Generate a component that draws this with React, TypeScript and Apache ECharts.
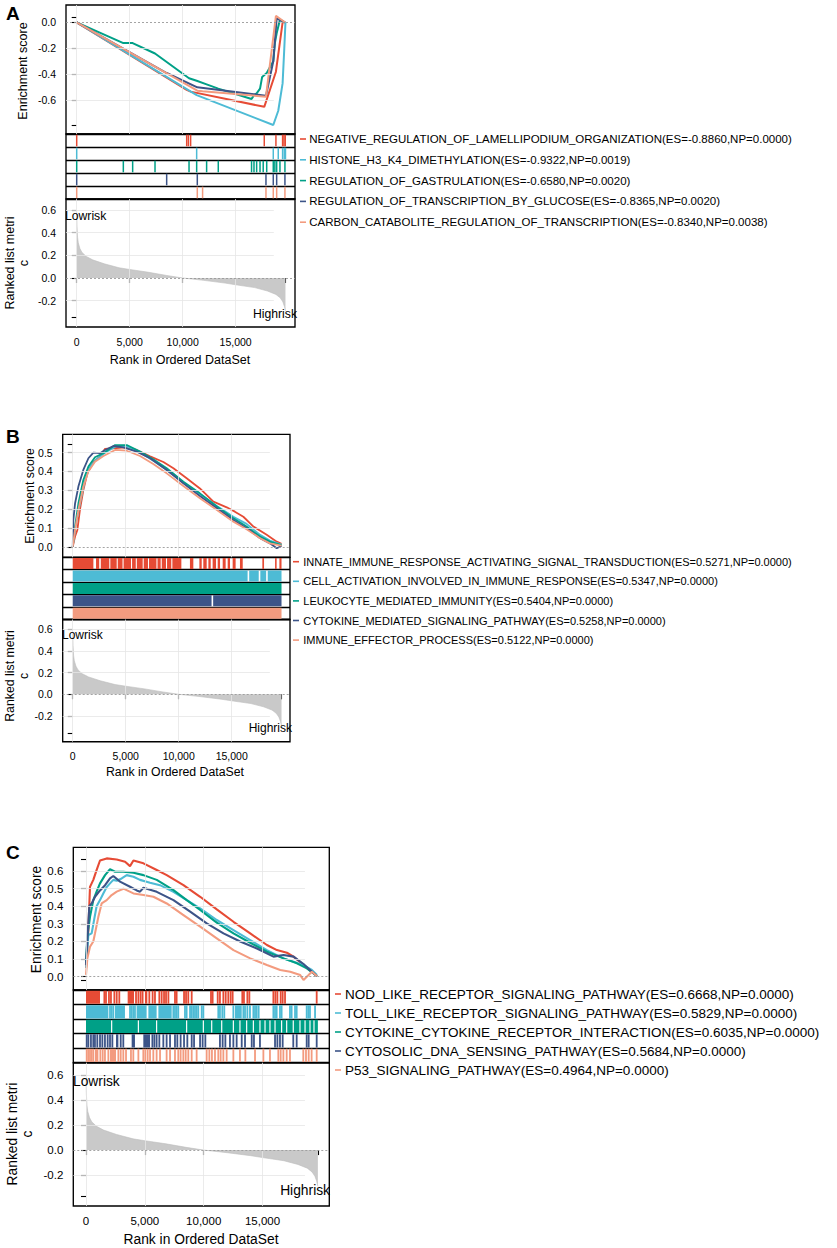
import React, { useEffect, useRef } from 'react';
import * as echarts from 'echarts';

const W = 837;
const H = 1248;
const FONT = '"Liberation Sans", Arial, Helvetica, sans-serif';
const COLORS = ['#E64B35', '#4DBBD5', '#00A087', '#3C5488', '#F39B7F'];

// ---------- shared ----------
const xTickLabels = [0, 5000, 10000, 15000];
const lastRank = 19700;
const rankMetric: number[][] = [
  [0, 0.56], [30, 0.45], [80, 0.36], [150, 0.31], [300, 0.26], [500, 0.225], [900, 0.19],
  [1500, 0.16], [2600, 0.125], [4000, 0.09], [5000, 0.075], [6800, 0.05], [8500, 0.022],
  [10000, 0.0], [12000, -0.021], [14000, -0.045], [15000, -0.06], [16800, -0.085],
  [18000, -0.115], [18800, -0.145], [19200, -0.175], [19450, -0.21], [19600, -0.25], [19700, -0.29],
];

// ---------- panel A ----------
const setsA = [
  'NEGATIVE_REGULATION_OF_LAMELLIPODIUM_ORGANIZATION',
  'HISTONE_H3_K4_DIMETHYLATION',
  'REGULATION_OF_GASTRULATION',
  'REGULATION_OF_TRANSCRIPTION_BY_GLUCOSE',
  'CARBON_CATABOLITE_REGULATION_OF_TRANSCRIPTION',
];
const esA = ['-0.8860', '-0.9322', '-0.6580', '-0.8365', '-0.8340'];
const npA = ['0.0000', '0.0019', '0.0020', '0.0020', '0.0038'];
const curveA1 = [[0, 0], [10380, -0.52], [10750, -0.533], [17700, -0.65], [18800, -0.38], [19430, 0.0], [19680, 0]];
const curveA2 = [[0, 0], [11320, -0.56], [18550, -0.79], [19020, -0.68], [19430, -0.47], [19590, -0.2], [19700, 0]];
const curveA3 = [[0, 0], [4400, -0.16], [5280, -0.16], [7390, -0.24], [10600, -0.43], [11320, -0.45], [12260, -0.477], [13360, -0.51], [16500, -0.59], [16730, -0.56], [16980, -0.546], [17300, -0.51], [17500, -0.42], [17930, -0.39], [18550, -0.3], [18700, -0.16], [18870, -0.085], [19180, 0.02], [19650, 0]];
const curveA4 = [[0, 0], [8490, -0.39], [11380, -0.5], [17860, -0.565], [18550, -0.3], [18870, 0.03], [19650, 0]];
const curveA5 = [[0, 0], [11380, -0.526], [11880, -0.53], [17860, -0.572], [18800, 0.05], [19650, 0]];
const hitsA1 = [0, 10380, 10540, 10750, 17700, 18800, 19430, 19560, 19680];
const hitsA2 = [0, 11320, 18550, 19020, 19430, 19590, 19700];
const hitsA3 = [0, 4400, 5280, 7390, 10600, 11320, 12260, 13360, 16500, 16730, 16980, 17300, 17600, 17930, 18550, 18700, 18870, 19180, 19650];
const hitsA4 = [0, 8490, 11380, 17860, 18550, 18870, 19650];
const hitsA5 = [0, 11380, 11880, 17860, 18550, 18870, 19650];

// ---------- panel B ----------
const setsB = [
  'INNATE_IMMUNE_RESPONSE_ACTIVATING_SIGNAL_TRANSDUCTION',
  'CELL_ACTIVATION_INVOLVED_IN_IMMUNE_RESPONSE',
  'LEUKOCYTE_MEDIATED_IMMUNITY',
  'CYTOKINE_MEDIATED_SIGNALING_PATHWAY',
  'IMMUNE_EFFECTOR_PROCESS',
];
const esB = ['0.5271', '0.5347', '0.5404', '0.5258', '0.5122'];
const npB = ['0.0000', '0.0000', '0.0000', '0.0000', '0.0000'];
const curveB1 = [[0, 0], [220, 0.055], [440, 0.09], [690, 0.2], [1000, 0.3], [1380, 0.39], [1950, 0.45], [2580, 0.48], [3050, 0.52], [3840, 0.523], [4940, 0.528], [6040, 0.514], [7300, 0.48], [8550, 0.45], [9500, 0.417], [10750, 0.364], [12000, 0.31], [13270, 0.24], [14530, 0.21], [15300, 0.187], [16100, 0.16], [17050, 0.108], [18300, 0.064], [19250, 0.028], [19700, 0.016]];
const curveB2 = [[0, 0], [310, 0.125], [690, 0.23], [1160, 0.355], [1640, 0.426], [2260, 0.465], [3200, 0.505], [4150, 0.535], [5100, 0.532], [6350, 0.5], [7600, 0.457], [8870, 0.408], [10440, 0.34], [12000, 0.28], [13600, 0.217], [15160, 0.16], [16400, 0.122], [17680, 0.064], [18600, 0.034], [19700, 0.012]];
const curveB3 = [[0, 0], [220, 0.108], [535, 0.23], [1000, 0.355], [1480, 0.426], [2100, 0.475], [2900, 0.497], [4000, 0.54], [5100, 0.54], [6350, 0.505], [7600, 0.465], [8870, 0.417], [10440, 0.346], [12000, 0.284], [13600, 0.214], [15160, 0.152], [16400, 0.108], [17680, 0.055], [18600, 0.028], [19700, 0.01]];
const curveB4 = [[0, 0], [60, 0.143], [220, 0.23], [535, 0.32], [1000, 0.408], [1480, 0.47], [1950, 0.5], [2580, 0.497], [3050, 0.514], [3840, 0.535], [4780, 0.528], [6040, 0.505], [7300, 0.47], [8870, 0.408], [10440, 0.337], [12000, 0.27], [13600, 0.205], [15160, 0.143], [16400, 0.099], [17680, 0.046], [18600, 0.019], [19250, -0.007], [19700, 0.005]];
const curveB5 = [[0, 0], [220, 0.09], [535, 0.196], [1000, 0.32], [1480, 0.4], [2100, 0.452], [2900, 0.482], [4000, 0.514], [5100, 0.51], [6350, 0.482], [7600, 0.44], [8870, 0.39], [10440, 0.323], [12000, 0.258], [13600, 0.196], [15160, 0.134], [16400, 0.094], [17680, 0.046], [18600, 0.019], [19700, 0.007]];
const hitsB1 = [[0, 1950], [2200, 2500], [2650, 3450], [3550, 4150], [4250, 4700], [4800, 5500], [5600, 5950], [6050, 6600], [6700, 7100], [7200, 7900], [8000, 8300], [8400, 8800], [8900, 9300], [9400, 10250], [11060, 11380], [11950, 12170], [12320, 12640], [12800, 13020], [13200, 13520], [13680, 13900], [14150, 14430], [14620, 14840], [15090, 15370], [15780, 16040], [17890, 18050], [19090, 19240], [19500, 19700]];
const hitsB2 = [[0, 16500], [16650, 17550], [17700, 18250], [18400, 19700]];
const hitsB3 = [[0, 19700]];
const hitsB4 = [[0, 13100], [13250, 19700]];
const hitsB5 = [[0, 19700]];

// ---------- panel C ----------
const setsC = [
  'NOD_LIKE_RECEPTOR_SIGNALING_PATHWAY',
  'TOLL_LIKE_RECEPTOR_SIGNALING_PATHWAY',
  'CYTOKINE_CYTOKINE_RECEPTOR_INTERACTION',
  'CYTOSOLIC_DNA_SENSING_PATHWAY',
  'P53_SIGNALING_PATHWAY',
];
const esC = ['0.6668', '0.5829', '0.6035', '0.5684', '0.4964'];
const npC = ['0.0000', '0.0000', '0.0000', '0.0000', '0.0000'];
const curveC1 = [[0, 0.05], [113, 0.17], [200, 0.265], [340, 0.51], [620, 0.55], [900, 0.605], [1190, 0.66], [1760, 0.672], [2610, 0.666], [3320, 0.653], [3740, 0.628], [4030, 0.66], [4880, 0.644], [6010, 0.606], [6860, 0.577], [8280, 0.52], [9700, 0.454], [11110, 0.382], [12530, 0.312], [13950, 0.246], [15370, 0.18], [16220, 0.151], [17070, 0.136], [17630, 0.114], [18480, 0.066], [19050, 0.034], [19620, 0.004]];
const curveC2 = [[0, 0.05], [60, 0.095], [200, 0.237], [480, 0.246], [680, 0.32], [900, 0.4], [1190, 0.435], [1470, 0.473], [1760, 0.51], [2040, 0.53], [2320, 0.55], [2610, 0.545], [3030, 0.558], [3460, 0.577], [4030, 0.568], [4590, 0.55], [5440, 0.534], [6290, 0.52], [7430, 0.482], [8560, 0.435], [9700, 0.388], [11110, 0.322], [12530, 0.265], [13950, 0.208], [15370, 0.151], [16780, 0.104], [17630, 0.085], [18480, 0.066], [19190, 0.038], [19620, 0.01]];
const curveC3 = [[0, 0.076], [113, 0.227], [340, 0.34], [620, 0.435], [900, 0.483], [1190, 0.53], [1620, 0.577], [2040, 0.61], [2470, 0.596], [3180, 0.596], [4030, 0.59], [4880, 0.577], [6010, 0.55], [7430, 0.492], [8560, 0.435], [9700, 0.379], [11110, 0.307], [12530, 0.246], [13950, 0.193], [15370, 0.142], [16780, 0.104], [17920, 0.076], [18770, 0.047], [19620, 0.004]];
const curveC4 = [[0, 0.066], [113, 0.208], [283, 0.4], [480, 0.416], [765, 0.454], [1190, 0.49], [1620, 0.52], [2040, 0.558], [2320, 0.572], [2890, 0.54], [3740, 0.511], [4310, 0.49], [4590, 0.483], [4880, 0.505], [6010, 0.482], [7430, 0.435], [8850, 0.369], [10260, 0.303], [11680, 0.246], [13100, 0.2], [14520, 0.16], [15930, 0.114], [16780, 0.123], [17630, 0.114], [18480, 0.072], [19190, 0.028], [19620, 0.004]];
const curveC5 = [[0, 0.01], [113, 0.104], [340, 0.17], [620, 0.2], [765, 0.246], [1050, 0.34], [1330, 0.416], [1760, 0.435], [2180, 0.464], [2610, 0.483], [3180, 0.5], [4030, 0.473], [4880, 0.464], [5730, 0.454], [6860, 0.416], [8280, 0.35], [9700, 0.284], [11110, 0.218], [12530, 0.151], [13950, 0.104], [15370, 0.066], [16500, 0.038], [17350, 0.028], [18200, 0.009], [18480, -0.019], [18910, 0.009], [19190, 0.028], [19620, 0.004]];
const hitsC1 = [[0, 1190], 1560, 1700, 1950, 2120, 2410, 2610, 2830, [3540, 4080], 4250, 4450, 4640, 4810, [5010, 5210], 5380, 5660, 5860, 6230, 6430, 6630, 6800, 7000, 7560, 7700, 8330, 8500, 8690, 8980, 10620, 10760, 11190, 11380, 11670, 11870, 12090, 12290, 12460, 13280, 13420, 13710, 13880, 15920, 16090, 16260, 16540, 16710, 16910, 19600];
const hitsC2 = [[0, 1900], 2040, 2180, 2320, [2460, 3310], 3740, 3880, 4020, 4160, [4300, 5150], [5300, 6000], [6150, 7280], 7420, 7560, 7700, 7840, 8410, 8550, 8840, 8980, 9120, 9260, 9400, 9540, 9830, 9970, 11240, 11380, 11580, 11750, 12520, [12660, 13230], 13370, 13510, 13710, 13930, 14220, 14360, 14500, 14670, 15920, 16060, 16200, 16480, 16620, 17330, 17470, 17760, 17900, 18750, 18890, 19030, 19460];
const hitsC3 = [[0, 2130], [2230, 4400], [4500, 5950], [6050, 8500], [8600, 9920], [10020, 10630], [10730, 11480], [11580, 12470], [12570, 13030], [13130, 13600], [13700, 14170], [14270, 14730], [14830, 15160], [15260, 15580], [15680, 16010], [16110, 16570], [16670, 17000], [17100, 17560], [17660, 18130], [18230, 18560], [18660, 18980], [19080, 19320], [19420, 19700]];
const hitsC4 = [60, 200, 420, 620, 760, 960, 1190, 1390, 1610, 1840, 2040, 2240, [2550, 2750], 2950, 3170, [3880, 4160], [4870, 5440], 5640, 5810, 6000, 6230, 6570, 6850, 7140, 7560, 7760, 8040, 8330, 8610, 8980, 9180, 9690, 9910, 10140, 11380, 11610, 11840, 12230, 12520, 12800, 13230, 13510, 14080, 14270, 14780, 16060, 16260, 16480, 16710, 17610, 17900, 18750, 18920, 19600];
const hitsC5 = [60, 200, 340, 480, 620, [760, 1050], 1220, 1420, 1610, 1900, [2040, 2550], 2750, 2950, 3170, 3400, 3820, 4020, 4450, 4870, 5040, 5240, 5440, 5720, 6000, 6290, 6850, 7140, 7560, 7840, 8040, 8270, 8470, 8690, 8980, 9400, 10250, 10480, 10700, 10960, 11240, 11440, 11670, 11950, 12520, 13080, 13540, 14360, 15070, 15630, 16340, 16540, 16770, 17050, 17330, 18460, 18690, 18920, 19170, 19600];

// ---------- layout ----------
const panels = [
  {
    letter: 'A', left: 66, width: 229, esTop: 5, esH: 129, hitH: 65, rankH: 128, xMin: -1010, xMax: 20600,
    esMin: -0.859, esMax: 0.133, esTicks: [0.04, 0, -0.2, -0.4, -0.6, -0.79], esLabels: [0, -0.2, -0.4, -0.6], esGrid: [-0.2, -0.4, -0.6],
    rankMin: -0.432, rankMax: 0.696, rankTicks: [0.6, 0.4, 0.2, 0, -0.2, -0.35],
    tickFont: 10.5, titleFont: 12.5, legendFont: 11.5, riskFont: 12.2, hitW: 1.5, lineW: 2,
    letterY: 13.5, esTitle: [23, 71], rankTitle: [17, 263], rankLH: 14, xTitle: [180, 360],
    low: [65, 216], high: [297, 314],
    legendDash: 300, legendText: 309.3, legendY: 139, legendGap: 20.8,
    names: setsA, es: esA, np: npA,
    curves: [curveA1, curveA2, curveA3, curveA4, curveA5],
    hits: [hitsA1, hitsA2, hitsA3, hitsA4, hitsA5],
  },
  {
    letter: 'B', left: 62.7, width: 227.3, esTop: 434.3, esH: 123, hitH: 62.2, rankH: 122.2, xMin: -945, xMax: 20500,
    esMin: -0.055, esMax: 0.597, esTicks: [0.546, 0.5, 0.4, 0.3, 0.2, 0.1, 0], esLabels: [0.5, 0.4, 0.3, 0.2, 0.1, 0], esGrid: [0.5, 0.4, 0.3, 0.2, 0.1],
    rankMin: -0.437, rankMax: 0.69, rankTicks: [0.6, 0.4, 0.2, 0, -0.2, -0.36],
    tickFont: 10.5, titleFont: 12.3, legendFont: 11, riskFont: 12, hitW: 1.6, lineW: 1.8,
    letterY: 436.5, esTitle: [30, 496], rankTitle: [17, 676], rankLH: 13.5, xTitle: [175, 772],
    low: [62, 635], high: [292, 728.3],
    legendDash: 293, legendText: 303.3, legendY: 561.7, legendGap: 19.6,
    names: setsB, es: esB, np: npB,
    curves: [curveB1, curveB2, curveB3, curveB4, curveB5],
    hits: [hitsB1, hitsB2, hitsB3, hitsB4, hitsB5],
  },
  {
    letter: 'C', left: 73.3, width: 256, esTop: 847.3, esH: 142.7, hitH: 72.7, rankH: 143.3, xMin: -1079, xMax: 20671,
    esMin: -0.0756, esMax: 0.735, esTicks: [0.668, 0.6, 0.5, 0.4, 0.3, 0.2, 0.1, 0, -0.02], esLabels: [0.6, 0.5, 0.4, 0.3, 0.2, 0.1, 0], esGrid: [0.6, 0.5, 0.4, 0.3, 0.2, 0.1],
    rankMin: -0.448, rankMax: 0.7, rankTicks: [0.6, 0.4, 0.2, 0, -0.2, -0.368],
    tickFont: 11.5, titleFont: 13.8, legendFont: 13.5, riskFont: 13.8, hitW: 1.8, lineW: 2.1,
    letterY: 852, esTitle: [36, 919.5], rankTitle: [20, 1134], rankLH: 15.5, xTitle: [201, 1239],
    low: [73, 1081.7], high: [330, 1190],
    legendDash: 335, legendText: 345, legendY: 994, legendGap: 19,
    names: setsC, es: esC, np: npC,
    curves: [curveC1, curveC2, curveC3, curveC4, curveC5],
    hits: [hitsC1, hitsC2, hitsC3, hitsC4, hitsC5],
  },
];

const GRID_LINE = { color: '#E6E6E6', width: 0.8, type: 'solid' as const };
const ZERO_LINE = { color: '#9A9A9A', width: 0.9, type: [2, 2] as any };
const HGRID_END = 18600;
const BORDER_W = 1.35;

function hitSeries(segs: any[], row: number, color: string, gi: number, minW: number) {
  return {
    type: 'custom',
    xAxisIndex: gi,
    yAxisIndex: gi,
    silent: true,
    z: 2,
    clip: true,
    encode: { x: [0, 1], y: 2 },
    data: segs.map((s) => (typeof s === 'number' ? [s, s, row] : [s[0], s[1], row])),
    renderItem: (_params: any, api: any) => {
      const a = api.coord([api.value(0), row]);
      const b = api.coord([api.value(1), row + 1]);
      let x0 = Math.min(a[0], b[0]);
      let w = Math.abs(b[0] - a[0]);
      if (w < minW) {
        const c = (a[0] + b[0]) / 2;
        x0 = c - minW / 2;
        w = minW;
      }
      const y0 = Math.min(a[1], b[1]);
      const h = Math.abs(b[1] - a[1]);
      return {
        type: 'rect',
        shape: { x: x0, y: y0 + 0.7, width: w, height: h - 1.4 },
        style: { fill: color },
      };
    },
  };
}

function buildOption() {
  const grid: any[] = [];
  const xAxis: any[] = [];
  const yAxis: any[] = [];
  const series: any[] = [];
  const graphic: any[] = [];

  panels.forEach((p, pi) => {
    const base = pi * 3;
    const tops = [p.esTop, p.esTop + p.esH, p.esTop + p.esH + p.hitH];
    const hs = [p.esH, p.hitH, p.rankH];
    for (let k = 0; k < 3; k++) {
      grid.push({
        left: p.left, top: tops[k], width: p.width, height: hs[k],
        show: true, borderColor: '#000', borderWidth: BORDER_W, backgroundColor: 'transparent', containLabel: false,
      });
      const isRank = k === 2;
      xAxis.push({
        type: 'value', gridIndex: base + k, min: p.xMin, max: p.xMax,
        axisLine: { show: false }, splitLine: { show: false },
        axisTick: isRank
          ? { show: true, customValues: [...xTickLabels, lastRank], length: 5, lineStyle: { color: '#000', width: 1.1 } }
          : { show: false },
        axisLabel: isRank
          ? {
              show: true, customValues: xTickLabels,
              formatter: (v: number) => Number(v).toLocaleString('en-US'),
              fontSize: p.tickFont, fontFamily: FONT, color: '#000', margin: 9,
            }
          : { show: false },
      });
    }
    const labelStyle = { fontSize: p.tickFont, fontFamily: FONT, color: '#000', margin: 10 };
    yAxis.push({
      type: 'value', gridIndex: base, min: p.esMin, max: p.esMax,
      axisLine: { show: false }, splitLine: { show: false },
      axisTick: { show: true, customValues: p.esTicks, length: 5, lineStyle: { color: '#000', width: 1.1 } },
      axisLabel: { show: true, customValues: p.esLabels, formatter: (v: number) => Number(v).toFixed(1), ...labelStyle },
    });
    yAxis.push({
      type: 'value', gridIndex: base + 1, min: 0, max: 5, interval: 1, inverse: true,
      axisLine: { show: false }, axisTick: { show: false }, axisLabel: { show: false },
      splitLine: { show: true, lineStyle: { color: '#000', width: BORDER_W } },
    });
    yAxis.push({
      type: 'value', gridIndex: base + 2, min: p.rankMin, max: p.rankMax,
      axisLine: { show: false }, splitLine: { show: false },
      axisTick: { show: true, customValues: p.rankTicks, length: 5, lineStyle: { color: '#000', width: 1.1 } },
      axisLabel: { show: true, customValues: [0.6, 0.4, 0.2, 0, -0.2], formatter: (v: number) => Number(v).toFixed(1), ...labelStyle },
    });

    // ES grid background lines
    series.push({
      type: 'line', xAxisIndex: base, yAxisIndex: base, data: [], z: 1, silent: true,
      markLine: {
        silent: true, symbol: ['none', 'none'], label: { show: false },
        data: [
          ...xTickLabels.map((v) => ({ xAxis: v, lineStyle: GRID_LINE })),
          ...p.esGrid.map((v) => [{ coord: [p.xMin, v], lineStyle: GRID_LINE }, { coord: [HGRID_END, v] }]),
          { yAxis: 0, lineStyle: ZERO_LINE },
        ],
      },
    });
    // ES curves
    p.curves.forEach((c, i) => {
      series.push({
        type: 'line', name: p.names[i], xAxisIndex: base, yAxisIndex: base, data: c,
        showSymbol: false, symbol: 'none', silent: true, z: 3,
        lineStyle: { width: p.lineW, color: COLORS[i] }, itemStyle: { color: COLORS[i] },
      });
    });
    // hits
    p.hits.forEach((h, i) => {
      series.push(hitSeries(h as any[], i, COLORS[i], base + 1, p.hitW));
    });
    // rank grid lines
    series.push({
      type: 'line', xAxisIndex: base + 2, yAxisIndex: base + 2, data: [], z: 1, silent: true,
      markLine: {
        silent: true, symbol: ['none', 'none'], label: { show: false },
        data: [
          ...xTickLabels.map((v) => ({ xAxis: v, lineStyle: GRID_LINE })),
          ...[0.6, 0.4, 0.2, -0.2].map((v) => [{ coord: [p.xMin, v], lineStyle: GRID_LINE }, { coord: [HGRID_END, v] }]),
        ],
      },
    });
    series.push({
      type: 'line', xAxisIndex: base + 2, yAxisIndex: base + 2, data: rankMetric,
      showSymbol: false, symbol: 'none', silent: true, z: 2,
      lineStyle: { width: 0.6, color: '#BEBEBE' }, areaStyle: { color: '#C9C9C9', opacity: 1 },
    });
    series.push({
      type: 'line', xAxisIndex: base + 2, yAxisIndex: base + 2, data: [], z: 4, silent: true,
      markLine: {
        silent: true, symbol: ['none', 'none'], label: { show: false },
        data: [{ yAxis: 0, lineStyle: ZERO_LINE }],
      },
    });

    // texts
    const txt = (x: number, y: number, text: string, size: number, extra: any = {}, el: any = {}) => ({
      type: 'text', x, y, silent: true, z: 10, ...el,
      style: { text, fontSize: size, fontFamily: FONT, fill: '#000', align: 'left', verticalAlign: 'middle', ...extra },
    });
    graphic.push(txt(6, p.letterY, p.letter, 19, { fontWeight: 'bold' }));
    graphic.push(txt(p.esTitle[0], p.esTitle[1], 'Enrichment score', p.titleFont, { align: 'center' }, { rotation: Math.PI / 2 }));
    graphic.push(txt(p.rankTitle[0], p.rankTitle[1], 'Ranked list metri\nc', p.titleFont, { align: 'center', lineHeight: p.rankLH }, { rotation: Math.PI / 2 }));
    graphic.push(txt(p.xTitle[0], p.xTitle[1], 'Rank in Ordered DataSet', p.titleFont, { align: 'center' }));
    graphic.push(txt(p.low[0], p.low[1], 'Lowrisk', p.riskFont));
    graphic.push(txt(p.high[0], p.high[1], 'Highrisk', p.riskFont, { align: 'right' }));
    p.names.forEach((n, i) => {
      const y = p.legendY + i * p.legendGap;
      graphic.push({
        type: 'rect', silent: true, z: 10,
        shape: { x: p.legendDash, y: y - 0.8, width: 6, height: 1.6 },
        style: { fill: COLORS[i] },
      });
      graphic.push(txt(p.legendText, y, `${n}(ES=${p.es[i]},NP=${p.np[i]})`, p.legendFont));
    });
  });

  return { animation: false, backgroundColor: '#fff', grid, xAxis, yAxis, series, graphic };
}

export default function App() {
  const ref = useRef<HTMLDivElement>(null);
  useEffect(() => {
    document.body.style.margin = '0';
    const chart = echarts.init(ref.current!, null, { renderer: 'svg', width: W, height: H });
    chart.setOption(buildOption() as any);
    return () => chart.dispose();
  }, []);
  return <div ref={ref} style={{ width: W, height: H }} />;
}
